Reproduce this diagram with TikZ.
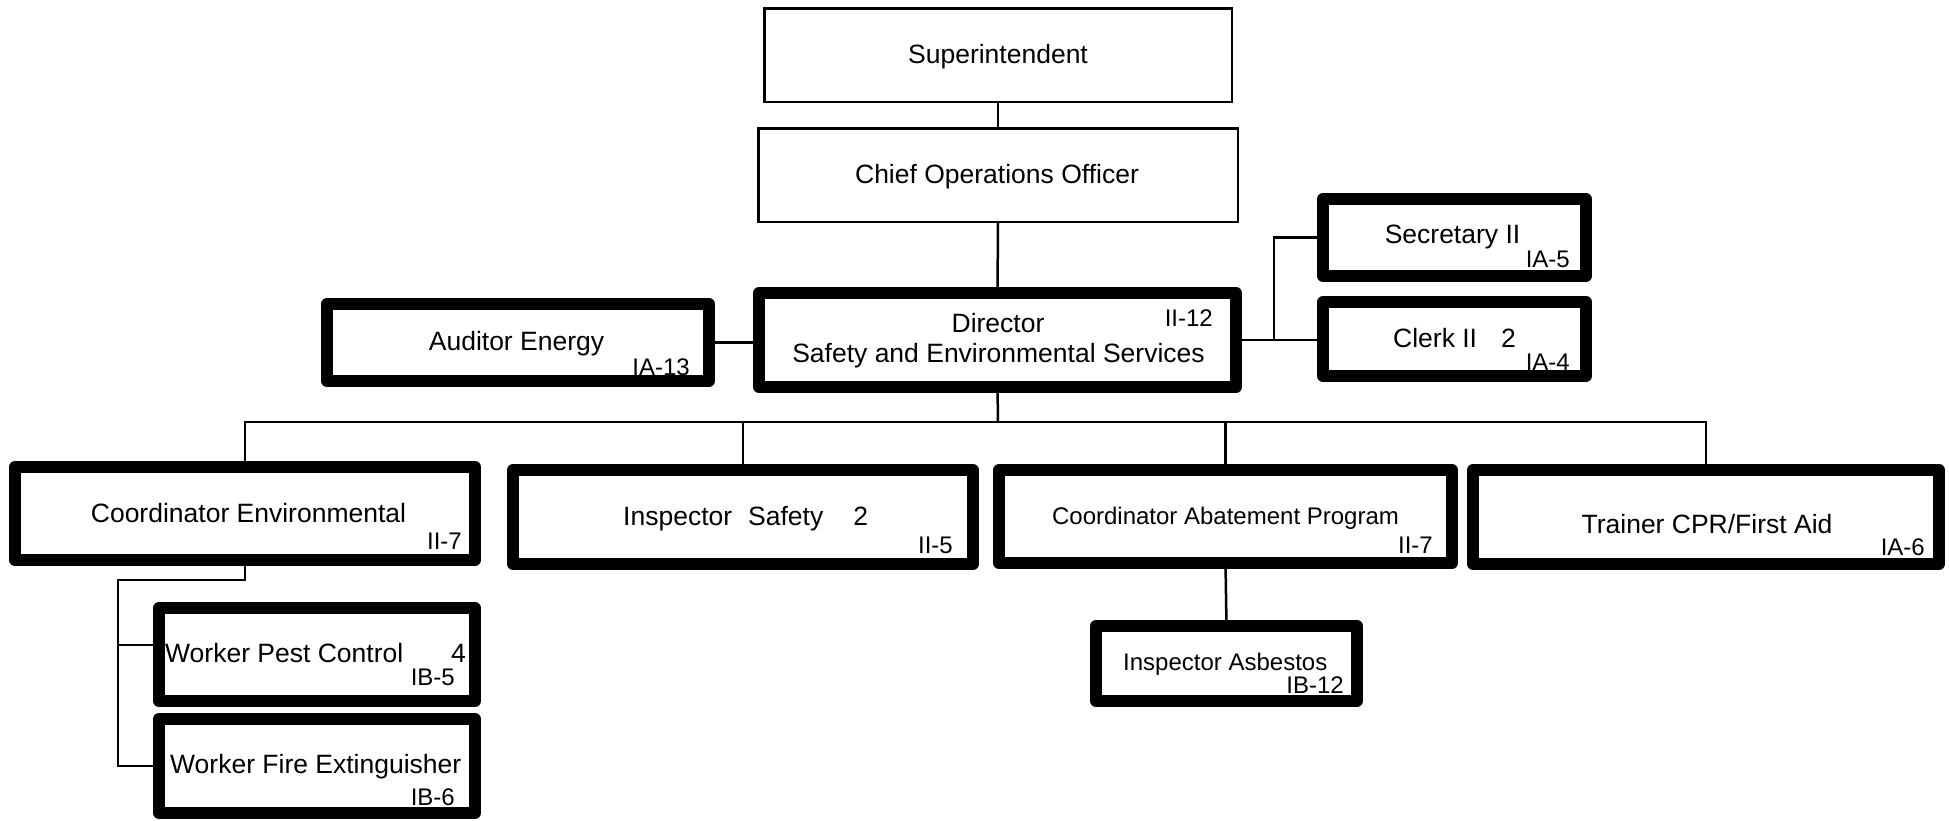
\documentclass[tikz,border=0pt]{standalone}
\usepackage{fontspec}
\setmainfont{Liberation Sans}
\begin{document}
\begin{tikzpicture}[x=1pt,y=-1pt,
  thinbox/.style={draw, fill=white, line width=2.5pt, inner sep=0pt, outer sep=0pt},
  thickbox/.style={draw, fill=white, line width=12pt, line join=round, inner sep=0pt, outer sep=0pt},
  conn/.style={line width=2.5pt},
  maintxt/.style={font=\fontsize{26.5}{30}\selectfont, inner sep=0pt, anchor=base},
  smalltxt/.style={font=\fontsize{24}{28}\selectfont, inner sep=0pt, anchor=base},
  grade/.style={font=\fontsize{24}{28}\selectfont, inner sep=0pt, anchor=base east}]
\useasboundingbox (0,0) rectangle (1949,820);
% boxes
\node[thinbox, minimum width=467.5pt, minimum height=93.5pt] (sup) at (998,55) {};
\node[thinbox, minimum width=479.5pt, minimum height=93.5pt] (coo) at (998,175) {};
\node[thickbox, minimum width=477pt, minimum height=94pt] (dir) at (997.5,340) {};
\node[thickbox, minimum width=382pt, minimum height=77pt] (aud) at (518,342.5) {};
\node[thickbox, minimum width=263pt, minimum height=77pt] (sec) at (1454.5,237.5) {};
\node[thickbox, minimum width=263pt, minimum height=74pt] (clerk) at (1454.5,339) {};
\node[thickbox, minimum width=460pt, minimum height=93pt] (env) at (245,513.5) {};
\node[thickbox, minimum width=460pt, minimum height=94pt] (insp) at (743,517) {};
\node[thickbox, minimum width=453pt, minimum height=93pt] (abate) at (1225.5,516.5) {};
\node[thickbox, minimum width=466pt, minimum height=94pt] (trainer) at (1706,517) {};
\node[thickbox, minimum width=316pt, minimum height=93pt] (pest) at (317,654.5) {};
\node[thickbox, minimum width=316pt, minimum height=94pt] (fire) at (317,766) {};
\node[thickbox, minimum width=261pt, minimum height=75pt] (asb) at (1226.5,663.5) {};
% connectors
\coordinate (bus) at (998,422);
\coordinate (sj) at (1274,340);
\coordinate (ej) at (118,580);
\coordinate (pj) at (118,645);
\draw[conn] (sup.south) -- (coo.north);
\draw[conn] (coo.south) -- (dir.north);
\draw[conn] (dir.south) -- (bus);
\draw[conn] (env.north) |- (bus) -| (trainer.north);
\draw[conn] (insp.north) -- (insp.north |- bus);
\draw[conn] (abate.north) -- (abate.north |- bus);
\draw[conn] (aud.east) -- (aud.east -| dir.west);
\draw[conn] (dir.east) -- (dir.east -| clerk.west);
\draw[conn] (sec.west) -| (sj);
\draw[conn] (env.south) |- (ej) |- (fire.west);
\draw[conn] (pj) -- (pj -| pest.west);
\draw[conn] (abate.south) -- (asb.north);
% texts
\node[maintxt] (t-sup) at (998,63) {Superintendent};
\node[maintxt] (t-coo) at (997,183) {Chief Operations Officer};
\node[maintxt] (t-dir1) at (998,332) {Director};
\node[maintxt] (t-dir2) at (998.5,362) {Safety and Environmental Services};
\node[grade] (g-dir) at (1213,326) {II-12};
\node[maintxt] (t-aud) at (516.5,350) {Auditor Energy};
\node[grade] (g-aud) at (690,375) {IA-13};
\node[maintxt] (t-sec) at (1452.5,243) {Secretary II};
\node[grade] (g-sec) at (1570,267) {IA-5};
\node[maintxt, anchor=base west] (t-clerk) at (1393,347) {Clerk II\hspace{24pt}2};
\node[grade] (g-clerk) at (1570,370) {IA-4};
\node[maintxt] (t-env) at (248.5,522) {Coordinator Environmental};
\node[grade] (g-env) at (462,549) {II-7};
\node[maintxt, anchor=base west] (t-insp) at (623,525) {Inspector\hspace{16pt}Safety\hspace{30pt}2};
\node[grade] (g-insp) at (953,553) {II-5};
\node[smalltxt] (t-abate) at (1225.5,524) {Coordinator Abatement Program};
\node[grade] (g-abate) at (1433,553) {II-7};
\node[maintxt] (t-trainer) at (1707,533) {Trainer CPR/First Aid};
\node[grade] (g-trainer) at (1925,555) {IA-6};
\node[maintxt, anchor=base west] (t-pest) at (165,662) {Worker Pest Control};
\node[maintxt, anchor=base east] (t-pest4) at (466,662) {4};
\node[grade] (g-pest) at (455,685) {IB-5};
\node[maintxt, anchor=base west] (t-fire) at (170,773) {Worker Fire Extinguisher};
\node[grade] (g-fire) at (455,805) {IB-6};
\node[smalltxt, anchor=base west] (t-asb) at (1123,670) {Inspector Asbestos};
\node[grade] (g-asb) at (1344,693.5) {IB-12};
\end{tikzpicture}
\end{document}
